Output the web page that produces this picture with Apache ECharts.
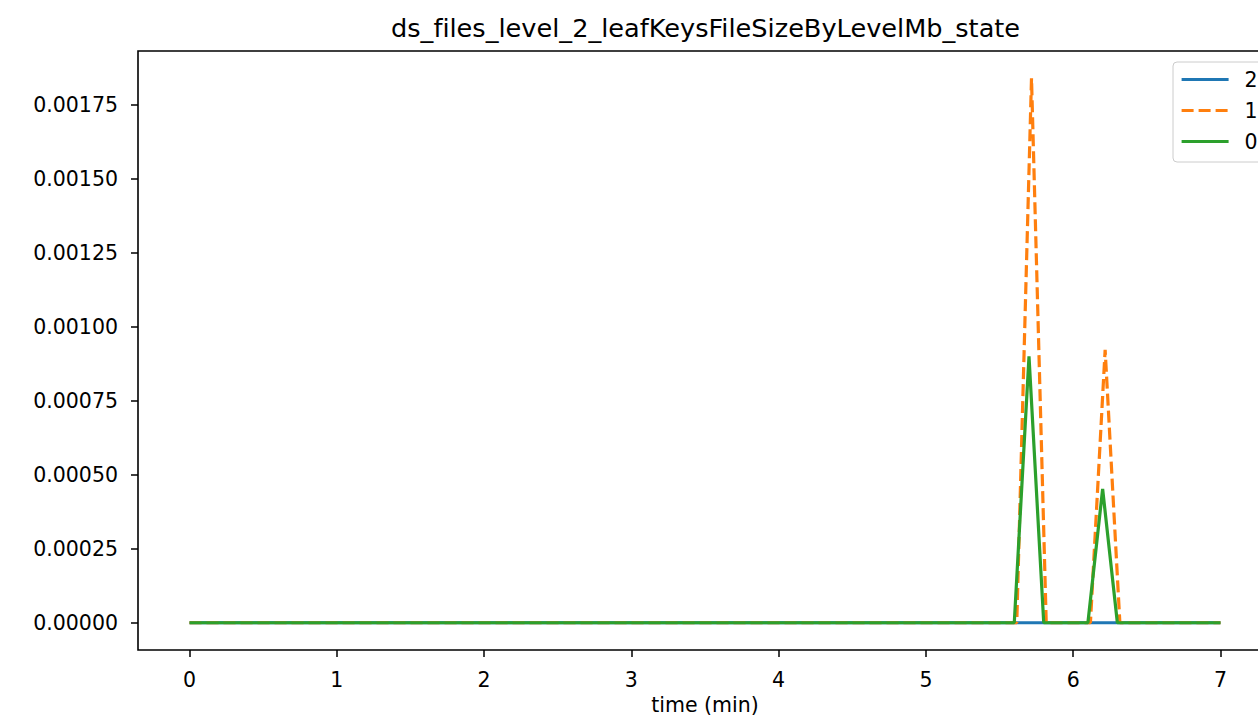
<!DOCTYPE html>
<html>
<head>
<meta charset="utf-8">
<script src="https://cdn.jsdelivr.net/npm/echarts@6/dist/echarts.min.js"></script>
<style>
  html, body { margin: 0; padding: 0; background: #fff; }
  #chart { width: 1258px; height: 716px; }
  #chart text { font-variant-ligatures: none; }
</style>
</head>
<body>
<div id="chart"></div>
<script>
const titleText = 'ds_files_level_2_leafKeysFileSizeByLevelMb_state';
const xAxisName = 'time (min)';
const xTicks = [0, 1, 2, 3, 4, 5, 6, 7];
const yTicks = [0, 0.00025, 0.0005, 0.00075, 0.001, 0.00125, 0.0015, 0.00175];
const seriesNames = ['2', '1', '0'];
const series2 = [[0, 0], [5.6, 0], [5.7, 0], [5.8, 0], [6.1, 0], [6.2, 0], [6.3, 0], [7, 0]];
const series1 = [[0, 0], [5.617, 0], [5.717, 0.00184], [5.817, 0], [6.117, 0], [6.217, 0.000922], [6.317, 0], [7, 0]];
const series0 = [[0, 0], [5.6, 0], [5.7, 0.0009], [5.8, 0], [6.1, 0], [6.2, 0.000452], [6.3, 0], [7, 0]];

const FONT = 'DejaVu Sans';
const chart = echarts.init(document.getElementById('chart'), null, { renderer: 'svg' });
chart.setOption({
  animation: false,
  backgroundColor: '#ffffff',
  textStyle: { fontFamily: FONT, color: '#000' },
  title: {
    text: titleText,
    left: 391, top: 15, padding: 0,
    textStyle: { fontFamily: FONT, fontSize: 25.6, fontWeight: 'normal', color: '#000' }
  },
  grid: {
    left: 138, top: 51, width: 1134, height: 599,
    outerBoundsMode: 'none', containLabel: false,
    show: true, borderColor: '#000', borderWidth: 1.6, backgroundColor: 'transparent'
  },
  legend: {
    left: 1173, top: 62,
    orient: 'vertical',
    data: seriesNames,
    itemWidth: 47, itemHeight: 14, itemGap: 10,
    padding: [7, 12, 10, 7],
    backgroundColor: 'rgba(255,255,255,0.8)',
    borderColor: '#cccccc', borderWidth: 1, borderRadius: 4,
    itemStyle: { opacity: 0 },
    lineStyle: { width: 3.2 },
    textStyle: { fontFamily: FONT, fontSize: 20.5, color: '#000', lineHeight: 20, padding: [0, 0, 0, 11] }
  },
  xAxis: {
    type: 'value', min: -0.35, max: 7.35,
    name: xAxisName, nameLocation: 'middle', nameGap: 44,
    nameTextStyle: { fontFamily: FONT, fontSize: 20.5, color: '#000' },
    axisLine: { show: false, onZero: false },
    splitLine: { show: false },
    axisTick: { show: true, inside: false, length: 7, lineStyle: { color: '#000', width: 1.5 }, customValues: xTicks },
    axisLabel: { fontFamily: FONT, fontSize: 20.5, color: '#000', margin: 19, customValues: xTicks, formatter: v => String(v) }
  },
  yAxis: {
    type: 'value', min: -0.000092, max: 0.001932,
    axisLine: { show: false, onZero: false },
    splitLine: { show: false },
    axisTick: { show: true, inside: false, length: 7, lineStyle: { color: '#000', width: 1.5 }, customValues: yTicks },
    axisLabel: { fontFamily: FONT, fontSize: 20.5, color: '#000', margin: 20, customValues: yTicks, formatter: v => v.toFixed(5) }
  },
  series: [
    { name: '2', type: 'line', data: series2, symbol: 'none', clip: false,
      lineStyle: { color: '#1f77b4', width: 3.2 }, itemStyle: { color: '#1f77b4' } },
    { name: '1', type: 'line', data: series1, symbol: 'none', clip: false,
      lineStyle: { color: '#ff7f0e', width: 3.2, type: [12, 5] }, itemStyle: { color: '#ff7f0e' } },
    { name: '0', type: 'line', data: series0, symbol: 'none', clip: false,
      lineStyle: { color: '#2ca02c', width: 3.2 }, itemStyle: { color: '#2ca02c' } }
  ]
});
</script>
</body>
</html>
